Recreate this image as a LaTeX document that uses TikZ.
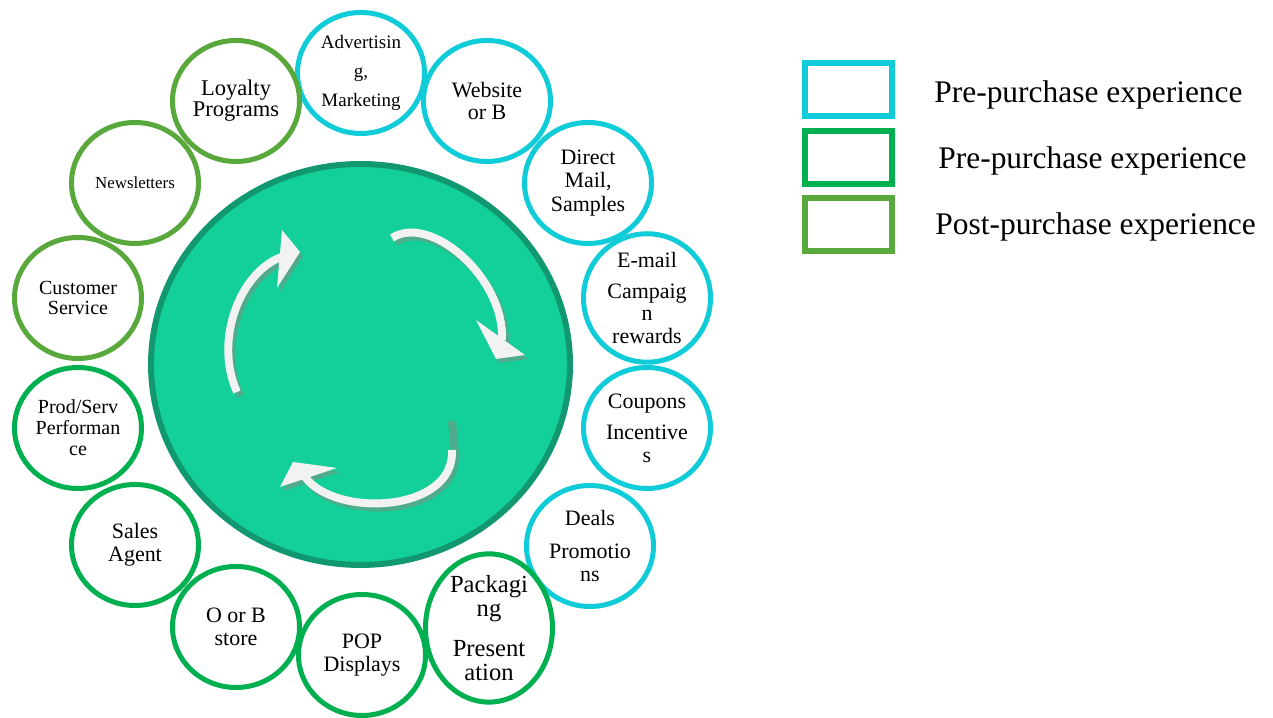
\documentclass[tikz,border=0pt]{standalone}
\usepackage{fontspec}
\setmainfont{Liberation Serif}
\usetikzlibrary{shapes.geometric}

\definecolor{precol}{RGB}{16,204,216}
\definecolor{buycol}{RGB}{0,176,80}
\definecolor{postcol}{RGB}{88,168,60}
\definecolor{hubfill}{RGB}{19,207,154}
\definecolor{hubedge}{RGB}{18,152,112}
\definecolor{arrowwhite}{RGB}{242,242,242}
\definecolor{arrowshade}{RGB}{80,170,140}

\begin{document}
\begin{tikzpicture}[
			    stage/.style={ellipse,inner sep=0mm,minimum width=2.54cm,minimum height=2.42cm,draw,line width=2.85pt,align=center,font=\fontsize{12.5}{12.8}\selectfont},
			    pre/.style={stage,draw=precol},
			    buy/.style={stage,draw=buycol},
			    post/.style={stage,draw=postcol},
			    hub/.style={ellipse,inner sep=0mm,minimum width=8.38cm,minimum height=8.02cm,draw=hubedge,fill=hubfill,line width=3.4pt},
			    key/.style={rectangle,inner sep=0mm,minimum width=1.74cm,minimum height=1.06cm,draw,line width=3.4pt},
			    keytext/.style={anchor=base west,inner sep=0mm,font=\fontsize{17.9}{20}\selectfont},
			    curl/.style={draw=arrowwhite,line width=4.5pt},
			    curltip/.style={fill=arrowwhite},
			    shade/.style={draw=arrowshade,line width=4.5pt,shift={(0.06,-0.08)}},
			    shadetip/.style={fill=arrowshade,shift={(0.06,-0.08)}},
			]
	    \useasboundingbox (0,0) rectangle (25.46,14.36);

	    %hub
	    \node[hub] (hub) at (7.21,7.07) {};

	    %pre-purchase
	    \node[pre,font=\fontsize{10.8}{16.4}\selectfont] (advert) at (7.22,12.90) {Advertisin\\g,\\Marketing};
	    \node[pre] (website) at (9.74,12.34) {Website\\or B};
	    \node[pre,font=\fontsize{12.5}{13.6}\selectfont] (mail) at (11.76,10.70) {Direct\\Mail,\\Samples};
	    \node[pre] (email) at (12.94,8.40) {E-mail\\[4.5pt]Campaig\\n\\rewards};
	    \node[pre] (coupons) at (12.94,5.80) {Coupons\\[5pt]Incentive\\s};
	    \node[pre] (deals) at (11.80,3.44) {Deals\\[6pt]Promotio\\ns};

	    %purchase
	    \node[buy,font=\fontsize{14}{13.6}\selectfont] (packaging) at (9.78,1.80) {Packagi\\ng\\[9pt]Present\\ation};
	    \node[buy] (pop) at (7.24,1.26) {POP\\Displays};
	    \node[buy] (store) at (4.72,1.82) {O or B\\store};
	    \node[buy] (sales) at (2.70,3.46) {Sales\\Agent};
	    \node[buy,font=\fontsize{11.4}{12}\selectfont] (perf) at (1.56,5.80) {Prod/Serv\\Performan\\ce};

	    %post-purchase
	    \node[post,font=\fontsize{11.4}{11.4}\selectfont] (service) at (1.56,8.40) {Customer\\Service};
	    \node[post,font=\fontsize{9.6}{11}\selectfont] (news) at (2.70,10.70) {Newsletters};
	    \node[post,font=\fontsize{12.8}{12}\selectfont] (loyalty) at (4.72,12.34) {Loyalty\\Programs};

	    %cycle arrows, shadow first
	    \draw[shade] (4.74,6.52) .. controls (4.25,7.6) and (4.85,9.05) .. (5.76,9.26);
	    \fill[shadetip] (5.64,9.76) -- (6.00,9.32) -- (5.54,8.60) -- cycle;
	    \draw[shade] (7.84,9.60) .. controls (8.6,10.1) and (10.1,8.8) .. (10.04,7.56);
	    \fill[shadetip] (9.52,7.96) -- (10.50,7.26) -- (9.92,7.18) -- cycle;
	    \draw[shade] (8.98,6.02) -- (9.04,5.36) .. controls (9.1,4.1) and (6.7,4.0) .. (6.10,4.82);
	    \fill[shadetip] (5.86,5.12) -- (6.74,5.00) -- (5.60,4.62) -- cycle;

	    \draw[curl] (4.74,6.52) .. controls (4.25,7.6) and (4.85,9.05) .. (5.76,9.26);
	    \fill[curltip] (5.64,9.76) -- (6.00,9.32) -- (5.54,8.60) -- cycle;
	    \draw[curl] (7.84,9.60) .. controls (8.6,10.1) and (10.1,8.8) .. (10.04,7.56);
	    \fill[curltip] (9.52,7.96) -- (10.50,7.26) -- (9.92,7.18) -- cycle;
	    \draw[curl] (9.04,5.36) .. controls (9.1,4.1) and (6.7,4.0) .. (6.10,4.82);
	    \fill[curltip] (5.86,5.12) -- (6.74,5.00) -- (5.60,4.62) -- cycle;

	    %legend
	    \node[key,draw=precol] (keypre) at (16.97,12.57) {};
	    \node[key,draw=buycol] (keybuy) at (16.97,11.21) {};
	    \node[key,draw=postcol] (keypost) at (16.97,9.87) {};
	    \node[keytext] (textpre) at (18.68,12.30) {Pre-purchase experience};
	    \node[keytext] (textbuy) at (18.76,10.98) {Pre-purchase experience};
	    \node[keytext] (textpost) at (18.70,9.66) {Post-purchase experience};
	\end{tikzpicture}
\end{document}
